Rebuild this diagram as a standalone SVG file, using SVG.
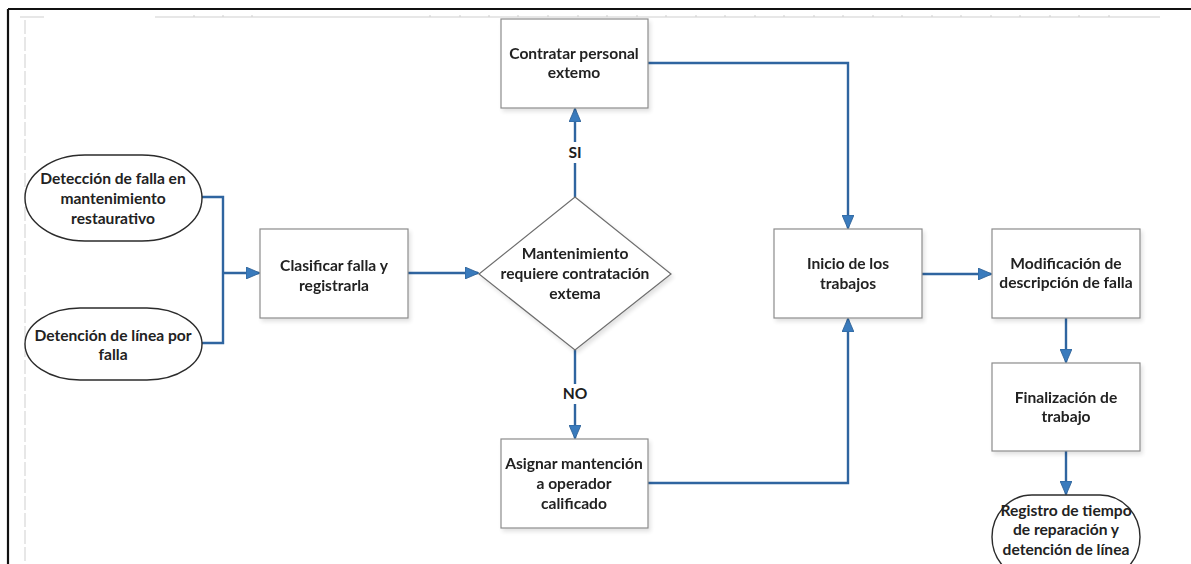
<svg xmlns="http://www.w3.org/2000/svg" width="1191" height="564" viewBox="0 0 1191 564">
  <style>
    .box { fill: #ffffff; stroke: #8c8c8c; stroke-width: 1.2; }
    .oval { fill: #ffffff; stroke: #2b2b2b; stroke-width: 1.4; }
    .dia { fill: #ffffff; stroke: #6e6e6e; stroke-width: 1.2; }
    .lbl { font-family: Lato, "Liberation Sans", sans-serif; font-size: 15.6px; font-weight: 700; fill: #222222; text-anchor: middle; dominant-baseline: central; }
    .yn { font-family: Lato, "Liberation Sans", sans-serif; font-size: 15.6px; font-weight: 700; fill: #1e1e1e; text-anchor: middle; dominant-baseline: central; }
    .wire { fill: none; stroke: #2f65a0; stroke-width: 2.4; }
    .frame { stroke: #111111; stroke-width: 2.2; fill: none; }
    .guide { stroke: #cfcfcf; stroke-width: 1; fill: none; }
  </style>
  <defs>
    <marker id="arrow" viewBox="0 0 14 12" refX="13" refY="6" markerWidth="14" markerHeight="12" markerUnits="userSpaceOnUse" orient="auto">
      <path d="M0,0 L14,6 L0,12 Z" fill="#3a7bbd" stroke="#2a5d92" stroke-width="0.8"/>
    </marker>
    <filter id="soft" x="-10%" y="-10%" width="130%" height="130%">
      <feGaussianBlur in="SourceAlpha" stdDeviation="2"/>
      <feOffset dx="2" dy="3"/>
      <feComponentTransfer><feFuncA type="linear" slope="0.12"/></feComponentTransfer>
      <feMerge><feMergeNode/><feMergeNode in="SourceGraphic"/></feMerge>
    </filter>
  </defs>

  <rect x="0" y="0" width="1191" height="564" fill="#ffffff"/>

  <!-- page frame and ruler guides -->
  <g id="page">
    <line class="frame" x1="8" y1="9" x2="1191" y2="9"/>
    <line class="frame" x1="8" y1="9" x2="8" y2="564"/>
    <line class="guide" x1="25" y1="20" x2="25" y2="564" stroke-dasharray="14 3"/>
    <line class="guide" x1="20" y1="17" x2="44" y2="17"/>
    <line class="guide" x1="155" y1="17" x2="1160" y2="17"/>
    <path class="guide" stroke="#dddddd" d="M194,15v2 M223,15v2 M252,15v2 M430,15v2 M460,15v2 M489,15v2 M518,15v2 M548,15v2 M578,15v2 M607,15v2 M637,15v2 M666,15v2 M696,15v2 M725,15v2 M755,15v2 M784,15v2 M814,15v2 M843,15v2 M873,15v2 M902,15v2 M932,15v2 M961,15v2 M991,15v2 M1020,15v2 M1050,15v2 M1079,15v2 M1109,15v2"/>
  </g>

  <!-- connectors -->
  <g id="connectors">
    <polyline class="wire" points="202,197 223,197 223,343 202,343"/>
    <line class="wire" x1="223" y1="273" x2="259" y2="273" marker-end="url(#arrow)"/>
    <line class="wire" x1="408" y1="273" x2="478" y2="273" marker-end="url(#arrow)"/>
    <line class="wire" x1="575" y1="197" x2="575" y2="163"/>
    <line class="wire" x1="575" y1="142" x2="575" y2="109" marker-end="url(#arrow)"/>
    <line class="wire" x1="575" y1="350" x2="575" y2="384"/>
    <line class="wire" x1="575" y1="404" x2="575" y2="438" marker-end="url(#arrow)"/>
    <polyline class="wire" points="648,63 848,63 848,228" marker-end="url(#arrow)"/>
    <polyline class="wire" points="648,483 848,483 848,319" marker-end="url(#arrow)"/>
    <line class="wire" x1="922" y1="274" x2="991" y2="274" marker-end="url(#arrow)"/>
    <line class="wire" x1="1066" y1="318" x2="1066" y2="362" marker-end="url(#arrow)"/>
    <line class="wire" x1="1066" y1="451" x2="1066" y2="494" marker-end="url(#arrow)"/>
    <text class="yn" x="575" y="152">SI</text>
    <text class="yn" x="575" y="393">NO</text>
  </g>

  <g id="n-deteccion-falla">
    <rect class="oval" x="25" y="155" width="177" height="86" rx="60" ry="43"/>
    <text class="lbl" x="113" y="178">Detección de falla en</text>
    <text class="lbl" x="113" y="198">mantenimiento</text>
    <text class="lbl" x="113" y="218">restaurativo</text>
  </g>

  <g id="n-detencion-linea">
    <rect class="oval" x="25" y="308" width="177" height="72" rx="55" ry="36"/>
    <text class="lbl" x="113" y="335">Detención de línea por</text>
    <text class="lbl" x="113" y="354">falla</text>
  </g>

  <g id="n-clasificar" filter="url(#soft)">
    <rect class="box" x="260" y="229" width="148" height="89"/>
    <text class="lbl" x="334" y="265">Clasificar falla y</text>
    <text class="lbl" x="334" y="285">registrarla</text>
  </g>

  <g id="n-decision" filter="url(#soft)">
    <polygon class="dia" points="575,197 671,274 575,350 479,274"/>
    <text class="lbl" x="575" y="253">Mantenimiento</text>
    <text class="lbl" x="575" y="273">requiere contratación</text>
    <text class="lbl" x="575" y="293">extema</text>
  </g>

  <g id="n-contratar" filter="url(#soft)">
    <rect class="box" x="501" y="19" width="147" height="89"/>
    <text class="lbl" x="574" y="53">Contratar personal</text>
    <text class="lbl" x="574" y="72">extemo</text>
  </g>

  <g id="n-asignar" filter="url(#soft)">
    <rect class="box" x="501" y="439" width="147" height="89"/>
    <text class="lbl" x="574" y="463">Asignar mantención</text>
    <text class="lbl" x="574" y="483">a operador</text>
    <text class="lbl" x="574" y="503">calificado</text>
  </g>

  <g id="n-inicio" filter="url(#soft)">
    <rect class="box" x="774" y="229" width="148" height="89"/>
    <text class="lbl" x="848" y="263">Inicio de los</text>
    <text class="lbl" x="848" y="283">trabajos</text>
  </g>

  <g id="n-modificacion" filter="url(#soft)">
    <rect class="box" x="992" y="229" width="148" height="89"/>
    <text class="lbl" x="1066" y="263">Modificación de</text>
    <text class="lbl" x="1066" y="282">descripción de falla</text>
  </g>

  <g id="n-finalizacion" filter="url(#soft)">
    <rect class="box" x="992" y="363" width="148" height="88"/>
    <text class="lbl" x="1066" y="397">Finalización de</text>
    <text class="lbl" x="1066" y="416">trabajo</text>
  </g>

  <g id="n-registro">
    <rect class="oval" x="992" y="495" width="148" height="84" rx="40" ry="42"/>
    <text class="lbl" x="1066" y="510">Registro de tiempo</text>
    <text class="lbl" x="1066" y="529">de reparación y</text>
    <text class="lbl" x="1066" y="549">detención de línea</text>
  </g>
</svg>
